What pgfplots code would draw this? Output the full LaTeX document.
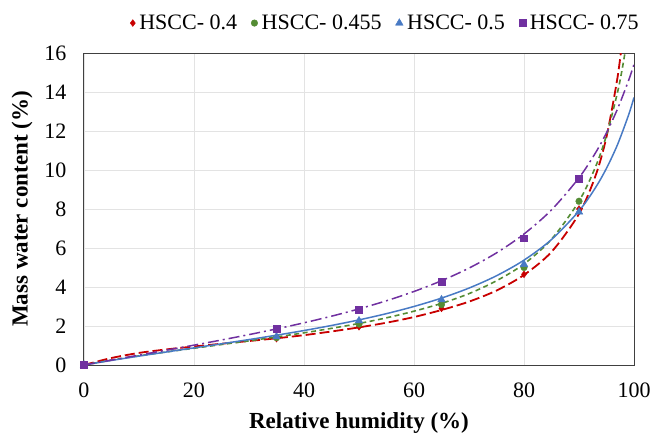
\documentclass[border=0pt]{standalone}
\usepackage{pgfplots}
\pgfplotsset{compat=1.18}
\usepackage{fontspec}
\setmainfont{Liberation Serif}
\definecolor{cred}{RGB}{200,0,0}
\definecolor{cgreen}{RGB}{84,140,52}
\definecolor{cblue}{RGB}{72,122,196}
\definecolor{cpurple}{RGB}{112,48,160}
\begin{document}
\begin{tikzpicture}
\begin{axis}[
  scale only axis, width=550pt, height=312pt,
  xmin=0, xmax=100, ymin=0, ymax=16,
  xtick={0,20,...,100}, ytick={0,2,...,16},
  grid=major, major grid style={gray!22},
  axis line style={black!75, line width=1pt},
  tick style={draw=none},
  /pgf/number format/assume math mode=true,
  ticklabel style={font=\fontsize{22}{26}\selectfont},
  xticklabel style={yshift=-14pt},
  yticklabel style={xshift=-14pt},
  xlabel={\textbf{Relative humidity (\%)}},
  ylabel={\textbf{Mass water content (\%)}},
  label style={font=\fontsize{23}{27}\selectfont},
  xlabel style={at={(axis description cs:0.5,-0.186)}, anchor=center},
  ylabel style={at={(axis description cs:-0.1127,0.5)}, anchor=center},
  legend columns=4,
  legend style={draw=none, fill=none, at={(axis description cs:0.548,1.096)}, anchor=center,
    font=\fontsize{22}{26}\selectfont,
    /tikz/every odd column/.append style={column sep=2pt},
    /tikz/every even column/.append style={column sep=12pt}},
  legend image code/.code={\draw[#1] plot coordinates {(0.15cm,0cm)};},
  clip=true,
]
% fitted curves
\addplot[cred, line width=1.8pt, dash pattern=on 10pt off 4pt, smooth, forget plot] coordinates {
(0,0) (5,0.36) (10,0.62) (15,0.80) (20,0.95) (25,1.09) (30,1.23) (35,1.37) (40,1.53) (45,1.72) (50,1.93) (55,2.17) (60,2.46) (65,2.82) (70,3.25) (75,3.82) (80,4.62) (85,5.80) (90,7.75) (93,9.7) (95,11.7) (97,14.74) (98,16.95)};
\addplot[cgreen, line width=1.6pt, dash pattern=on 5pt off 3.5pt, smooth, forget plot] coordinates {
(0,0) (5,0.25) (10,0.47) (15,0.67) (20,0.86) (25,1.05) (30,1.24) (35,1.44) (40,1.65) (45,1.88) (50,2.13) (55,2.42) (60,2.76) (65,3.16) (70,3.66) (75,4.32) (80,5.18) (85,6.45) (90,8.40) (93,10.16) (95,11.78) (97,13.98) (98,15.41) (99,17.15)};
\addplot[cblue, line width=1.5pt, smooth, forget plot] coordinates {
(0,0) (5,0.235) (10,0.456) (15,0.669) (20,0.878) (25,1.088) (30,1.304) (35,1.529) (40,1.768) (45,2.027) (50,2.313) (55,2.634) (60,3.002) (65,3.431) (70,3.945) (75,4.577) (80,5.377) (85,6.434) (90,7.90) (93,9.095) (95,10.09) (97,11.30) (99,12.81) (100,13.72)};
\addplot[cpurple, line width=1.5pt, dash pattern=on 11pt off 4pt on 2pt off 4pt, smooth, forget plot] coordinates {
(0,0) (5,0.255) (10,0.508) (15,0.761) (20,1.018) (25,1.283) (30,1.559) (35,1.851) (40,2.164) (45,2.503) (50,2.877) (55,3.296) (60,3.771) (65,4.321) (70,4.969) (75,5.75) (80,6.718) (85,7.954) (90,9.60) (93,10.88) (95,11.91) (97,13.13) (99,14.58) (100,15.42)};
% data markers
\addplot[only marks, mark=diamond*, mark size=3.4pt, cred, mark options={fill=cred}] coordinates {
(0,0) (35,1.35) (50,1.96) (65,2.9) (80,4.65) (90,8.0)};
\addlegendentry{HSCC- 0.4}
\addplot[only marks, mark=*, mark size=3.3pt, cgreen, mark options={fill=cgreen}] coordinates {
(0,0) (35,1.4) (50,2.1) (65,3.1) (80,5.0) (90,8.4)};
\addlegendentry{HSCC- 0.455}
\addplot[only marks, mark=triangle*, mark size=4.4pt, cblue, mark options={fill=cblue}] coordinates {
(0,0) (35,1.45) (50,2.27) (65,3.35) (80,5.16) (90,7.85)};
\addlegendentry{HSCC- 0.5}
\addplot[only marks, mark=square*, mark size=3.4pt, cpurple, mark options={fill=cpurple}] coordinates {
(0,0) (35,1.86) (50,2.84) (65,4.28) (80,6.5) (90,9.55)};
\addlegendentry{HSCC- 0.75}
\end{axis}
\path (current axis.south west) ++(-84pt,-70pt);
\path (current axis.north east) ++(20pt,53pt);
\end{tikzpicture}
\end{document}
